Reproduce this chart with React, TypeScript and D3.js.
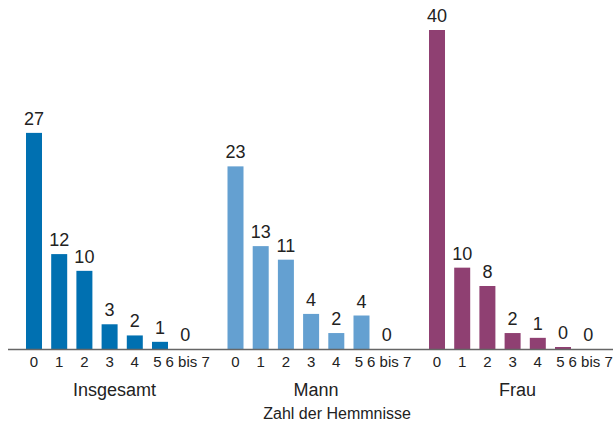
import React from "react";
import * as d3 from "d3";

const groups = ["Insgesamt", "Mann", "Frau"];
const categories = ["0", "1", "2", "3", "4", "5", "6 bis 7"];
const insgesamt = [27.1, 11.9, 9.8, 3.1, 1.7, 0.9, 0];
const mann = [22.9, 12.9, 11.2, 4.4, 2.0, 4.2, 0];
const frau = [40, 10.2, 7.9, 2.0, 1.4, 0.25, 0];
const insgesamtLabels = ["27", "12", "10", "3", "2", "1", "0"];
const mannLabels = ["23", "13", "11", "4", "2", "4", "0"];
const frauLabels = ["40", "10", "8", "2", "1", "0", "0"];
const seriesValues = [insgesamt, mann, frau];
const seriesLabels = [insgesamtLabels, mannLabels, frauLabels];
const colors = ["#0070b1", "#64a0d1", "#8f4072"];
const axisTitle = "Zahl der Hemmnisse";

const W = 616;
const H = 421;
const baseline = 349;
const font = "'Liberation Sans', Arial, Helvetica, sans-serif";

export default function App() {
  const outer = d3
    .scaleBand<string>()
    .domain(groups)
    .range([21.4, 600.8])
    .paddingInner(0.1246)
    .paddingOuter(0);
  const inner = d3
    .scaleBand<string>()
    .domain(categories)
    .range([0, outer.bandwidth()])
    .paddingInner(0.365)
    .paddingOuter(0.1825);
  const y = d3.scaleLinear().domain([0, 40]).range([baseline, 30]);
  const tickShift = (c: string) => (c === "5" ? -2.5 : c === "6 bis 7" ? 2.5 : 0);

  return (
    <div style={{ position: "fixed", left: 0, top: 0 }}>
      <svg width={W} height={H} style={{ display: "block", background: "#fff" }} fontFamily={font}>
        {groups.map((g, gi) => {
          const gx = outer(g) as number;
          return (
            <g key={g} transform={`translate(${gx},0)`}>
              {categories.map((c, ci) => {
                const v = seriesValues[gi][ci];
                const bx = inner(c) as number;
                const cx = bx + inner.bandwidth() / 2;
                return (
                  <g key={c}>
                    {v > 0 && (
                      <rect
                        x={bx}
                        y={y(v)}
                        width={inner.bandwidth()}
                        height={baseline - y(v)}
                        fill={colors[gi]}
                      />
                    )}
                    <text
                      x={cx}
                      y={y(v) - 8}
                      textAnchor="middle"
                      fontSize={18}
                      fill="#222"
                    >
                      {seriesLabels[gi][ci]}
                    </text>
                    <text
                      x={cx + tickShift(c)}
                      y={367.3}
                      textAnchor="middle"
                      fontSize={15}
                      fill="#222"
                    >
                      {c}
                    </text>
                  </g>
                );
              })}
              <text
                x={outer.bandwidth() / 2 + 5}
                y={395.7}
                textAnchor="middle"
                fontSize={18}
                fill="#222"
              >
                {g}
              </text>
            </g>
          );
        })}
        <line x1={8} x2={613} y1={baseline + 0.5} y2={baseline + 0.5} stroke="#666" strokeWidth={1.5} />
        <text
          x={(outer("Mann") as number) + outer.bandwidth() / 2 + 26}
          y={418.5}
          textAnchor="middle"
          fontSize={16}
          fill="#222"
        >
          {axisTitle}
        </text>
      </svg>
    </div>
  );
}
